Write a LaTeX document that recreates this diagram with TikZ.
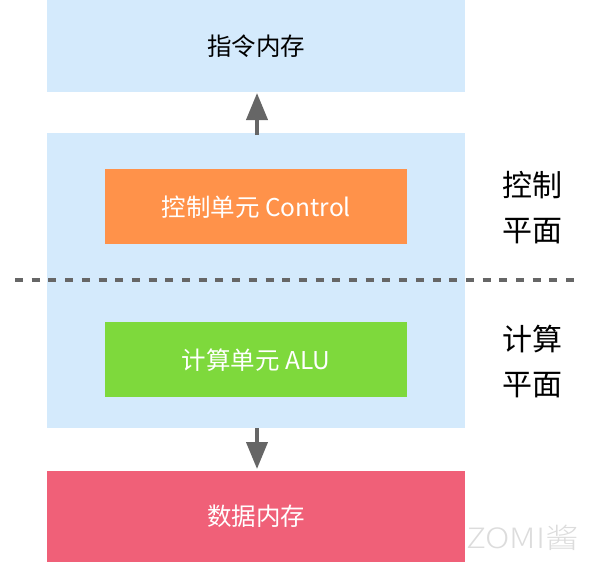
\documentclass[tikz,border=0pt]{standalone}
\usepackage{fontspec}
\setmainfont{Noto Sans CJK SC}
\newfontfamily\cjklight{Noto Sans CJK SC Light}
\usetikzlibrary{arrows.meta}
\definecolor{lblue}{HTML}{D4EAFC}
\definecolor{corange}{HTML}{FF924A}
\definecolor{cgreen}{HTML}{7ED93C}
\definecolor{cpink}{HTML}{F06078}
\definecolor{cgray}{HTML}{666666}
\definecolor{wm}{HTML}{DCDCDC}
\tikzset{
  panel/.style={fill=lblue, draw=none, minimum width=418pt, inner sep=0pt},
  unit/.style={draw=none, minimum width=302pt, minimum height=75pt, inner sep=0pt, text=white, font=\fontsize{24.5pt}{28pt}\selectfont},
  side/.style={align=center, font=\fontsize{30pt}{45pt}\selectfont, inner sep=0pt},
  flow/.style={draw=cgray, line width=4pt, -{Triangle[length=27pt,width=21pt]}},
}
\begin{document}
\begin{tikzpicture}[x=1pt,y=-1pt]
\useasboundingbox (0,0) rectangle (589,562);
\node[panel, minimum height=92pt, anchor=north west, font=\fontsize{24.5pt}{28pt}\selectfont] (imem) at (47,0) {指令内存};
\node[panel, minimum height=295pt, anchor=north west] (core) at (47,133) {};
\node[unit, fill=corange, anchor=north west] (ctrl) at (105,169) {控制单元 Control};
\node[unit, fill=cgreen, anchor=north west] (alu) at (105,322) {计算单元 ALU};
\node[panel, minimum height=91pt, anchor=north west, fill=cpink, text=white, font=\fontsize{24.5pt}{28pt}\selectfont] (dmem) at (47,471) {数据内存};
\coordinate (dl) at (15,280);
\coordinate (dr) at (578,280);
\draw[cgray, line width=4pt, dash pattern=on 8pt off 8.7pt] (dl) -- (dr);
\node[side] (cp) at (532,208) {控制\\平面};
\node[side] (ap) at (532,362) {计算\\平面};
\draw[flow] (core.north -| 257,0) ++(0,2) coordinate (a1) (a1) -- (257,93);
\draw[flow] (core.south -| 257,0) -- (257,469);
\node[text=wm, anchor=west, inner sep=0pt] (wmk) at (466,538) {\scalebox{1.2}[1]{\cjklight\fontsize{28pt}{32pt}\selectfont ZOMI酱}};
\end{tikzpicture}
\end{document}
